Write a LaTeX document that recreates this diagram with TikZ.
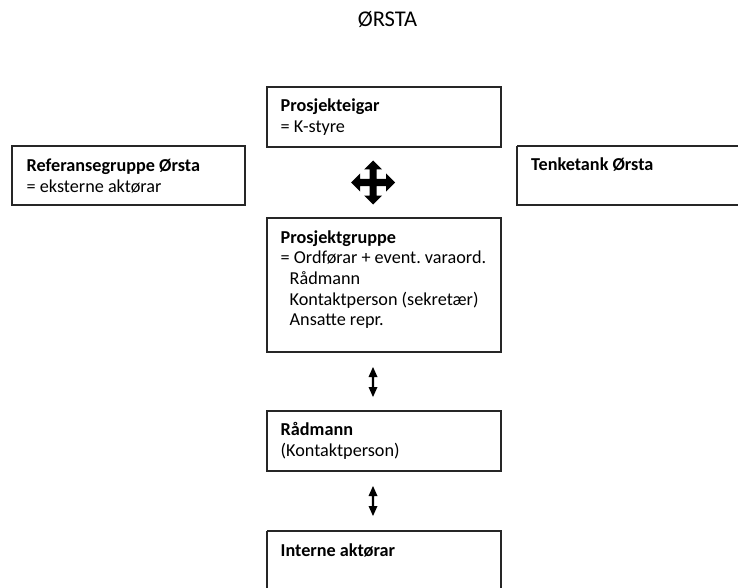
\documentclass[tikz,border=0pt]{standalone}
\usepackage{fontspec}
\setmainfont{Carlito}
\frenchspacing
\newcommand{\boxtext}[1]{\parbox[t]{215pt}{\raggedright\frenchspacing\fontsize{18.2}{20.7}\selectfont #1}}
\begin{document}
\begin{tikzpicture}[x=1pt,y=-1pt,
  box/.style={draw=black!85,line width=1.2pt},
  txt/.style={anchor=base west,inner sep=0pt},
  arr/.style={fill=black,draw=none}]
\useasboundingbox (0,0) rectangle (738,588);
% title
\node[anchor=base,inner sep=0pt,font=\fontsize{22.5}{26}\selectfont] (title) at (387.5,26.5) {ØRSTA};
% boxes
\draw[box] (267,87) rectangle (501,147);
\coordinate (eigar) at (267,87);
\draw[box] (12,146) rectangle (245,205);
\coordinate (ref) at (12,146);
\draw[box] (517,146) -- (745,146) (517,146) -- (517,205) -- (745,205);
\coordinate (tenk) at (517,146);
\draw[box] (267,218) rectangle (501,352);
\coordinate (grp) at (267,218);
\draw[box] (267,411) rectangle (501,471);
\coordinate (rad) at (267,411);
\draw[box] (267,531) -- (267,600) (267,531) -- (501,531) -- (501,600);
\coordinate (int) at (267,531);
% texts
\node[txt] (t1) at ([shift={(13.5,25)}]eigar) {\boxtext{\textbf{Prosjekteigar}\\= K-styre}};
\node[txt] (t2) at ([shift={(14.5,25.5)}]ref) {\boxtext{\textbf{Referansegruppe Ørsta}\\= eksterne aktørar}};
\node[txt] (t3) at ([shift={(14,25)}]tenk) {\boxtext{\textbf{Tenketank Ørsta}}};
\node[txt] (t4) at ([shift={(13.5,25)}]grp) {\boxtext{\textbf{Prosjektgruppe}\\= Ordførar + event. varaord.\\\hspace*{9pt}Rådmann\\\hspace*{9pt}Kontaktperson (sekretær)\\\hspace*{9pt}Ansatte repr.}};
\node[txt] (t5) at ([shift={(13.5,24.5)}]rad) {\boxtext{\textbf{Rådmann}\\(Kontaktperson)}};
\node[txt] (t6) at ([shift={(13.5,25)}]int) {\boxtext{\textbf{Interne aktørar}}};
% four-way arrow
\fill[arr] (373,160.5) -- (382,169.5) -- (376.5,169.5) -- (376.5,179) -- (386,179) -- (386,173.5) -- (395,182.5)
  -- (386,191.5) -- (386,186) -- (376.5,186) -- (376.5,195.5) -- (382,195.5) -- (373,204.5)
  -- (364,195.5) -- (369.5,195.5) -- (369.5,186) -- (360,186) -- (360,191.5) -- (351,182.5)
  -- (360,173.5) -- (360,179) -- (369.5,179) -- (369.5,169.5) -- (364,169.5) -- cycle;
% double arrows
\foreach \c/\n in {382/a1,501/a2}{
  \coordinate (\n) at (373,\c);
  \fill[arr] ([shift={(0,-15)}]\n) -- ([shift={(4.5,-5)}]\n) -- ([shift={(1.1,-5)}]\n) -- ([shift={(1.1,5)}]\n)
    -- ([shift={(4.5,5)}]\n) -- ([shift={(0,15)}]\n) -- ([shift={(-4.5,5)}]\n) -- ([shift={(-1.1,5)}]\n)
    -- ([shift={(-1.1,-5)}]\n) -- ([shift={(-4.5,-5)}]\n) -- cycle;
}
\end{tikzpicture}
\end{document}
